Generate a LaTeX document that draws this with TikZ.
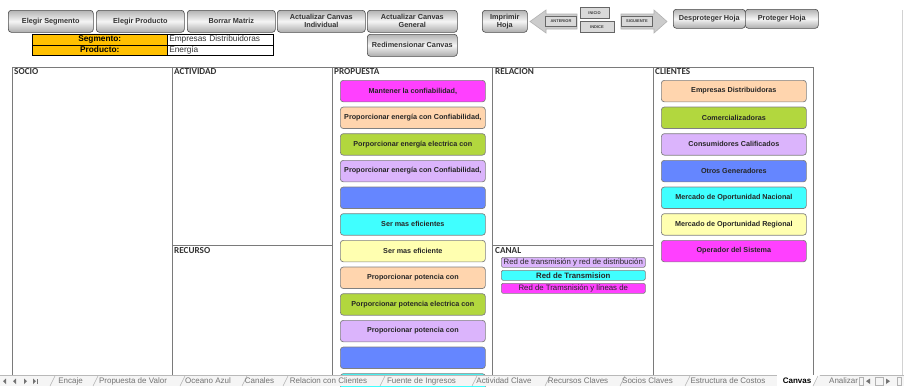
\documentclass[tikz,border=0pt]{standalone}
\usepackage{fontspec}
\setmainfont{Liberation Sans}
\newfontfamily\hdrfont{Carlito}
\definecolor{cMag}{HTML}{FF40FF}
\definecolor{cPeach}{HTML}{FFD5AE}
\definecolor{cGreen}{HTML}{B2D73E}
\definecolor{cLav}{HTML}{DBB4FC}
\definecolor{cBlue}{HTML}{6586FF}
\definecolor{cCyan}{HTML}{40FFFF}
\definecolor{cYel}{HTML}{FFFFB0}
\definecolor{cGold}{HTML}{FFC000}
\definecolor{gridc}{HTML}{7A7A7A}
\begin{document}
\begin{tikzpicture}[x=1pt,y=-1pt,
  btn/.style={draw=black!70, line width=0.6pt, rounded corners=3pt,
    top color=gray!60, bottom color=gray!65, middle color=gray!8,
    minimum width=#1, minimum height=22pt, inner sep=0pt, align=center,
    anchor=north west, font=\fontsize{7.3}{8}\selectfont\bfseries, text=black!80},
  cbox/.style={draw=black!50, line width=0.7pt, rounded corners=3pt, fill=#1,
    minimum width=145pt, minimum height=21.5pt, inner sep=0pt, anchor=north west,
    font=\fontsize{7.2}{8}\selectfont\bfseries, text=black!85},
  kbox/.style={draw=black!50, line width=0.6pt, rounded corners=1.5pt, fill=#1,
    minimum width=144pt, minimum height=10pt, inner sep=0pt, anchor=north west,
    font=\fontsize{7.8}{8.5}\selectfont, text=black!85},
  ycell/.style={draw=black, line width=0.5pt, fill=cGold, minimum width=135pt,
    minimum height=10.5pt, inner sep=0pt, anchor=north west,
    font=\fontsize{8.3}{9}\selectfont\bfseries},
  wcell/.style={draw=black, line width=0.5pt, fill=white, text width=102pt, align=left,
    inner xsep=2pt, inner ysep=0pt, minimum height=10.5pt, anchor=north west,
    font=\fontsize{8.3}{9}\selectfont, text=black!80},
  hdr/.style={anchor=north west, inner sep=0pt, font=\hdrfont\fontsize{9.2}{10}\selectfont\bfseries, text=black!80},
  gridline/.style={draw=gridc, line width=0.8pt},
  navlbl/.style={draw=black!60, line width=0.5pt, fill=gray!30, inner sep=0pt,
    font=\fontsize{4}{4.5}\selectfont\bfseries, text=black!75},
  arrowshape/.style={fill=gray!40, draw=gray!60, line width=0.6pt},
  tabtxt/.style={inner sep=0pt, font=\fontsize{8}{9}\selectfont, text=black!55},
  tabsep/.style={draw=gray!60, line width=0.5pt},
  navtri/.style={fill=black!55}
]
\useasboundingbox (0,0) rectangle (904,386);
\fill[white] (0,0) rectangle (904,386);

% ---------- toolbar buttons ----------
\node[btn=85pt] (b1) at (8,10) {Elegir Segmento};
\node[btn=88pt] (b2) at (96,10) {Elegir Producto};
\node[btn=88pt] (b3) at (187,10) {Borrar Matriz};
\node[btn=88pt] (b4) at (277,10) {Actualizar Canvas\\Individual};
\node[btn=90pt] (b5) at (367,10) {Actualizar Canvas\\General};
\node[btn=90pt] (b6) at (367,34) {Redimensionar Canvas};
\node[btn=45pt] (b7) at (482,10) {Imprimir\\Hoja};
\node[btn=72pt, minimum height=19pt] (b8) at (673,9) {Desproteger Hoja};
\node[btn=73pt, minimum height=19pt] (b9) at (745,9) {Proteger Hoja};

% navigation arrows
\draw[arrowshape] (530,21.5) -- (546,10) -- (546,14) -- (577,14) -- (577,29) -- (546,29) -- (546,33) -- cycle;
\node[navlbl, minimum width=31pt, minimum height=10pt] (ant) at (561,21.5) {ANTERIOR};
\draw[arrowshape] (667,21.5) -- (654,10) -- (654,14) -- (621,14) -- (621,29) -- (654,29) -- (654,33) -- cycle;
\node[navlbl, minimum width=31pt, minimum height=10pt] (sig) at (637,21.5) {SIGUIENTE};
\node[navlbl, minimum width=29pt, minimum height=11pt] (ini) at (594.5,13) {INICIO};
\node[navlbl, minimum width=34pt, minimum height=11pt] (ind) at (597,27) {INDICE};

% segment table
\node[ycell] (segl) at (32,34) {Segmento:};
\node[wcell] (segv) at (167,34) {Empresas Distribuidoras};
\node[ycell] (prol) at (32,44.5) {Producto:};
\node[wcell] (prov) at (167,44.5) {Energía};

% ---------- canvas grid ----------
\draw[gridline] (12,67) -- (813,67);
\foreach \x in {12,172,332,492,653,813} \draw[gridline] (\x,67) -- (\x,376);
\draw[gridline] (172,245) -- (332,245);
\draw[gridline] (492,245) -- (653,245);
\draw[draw=gray!35, line width=0.8pt] (902,10) -- (902,376);

\node[hdr] (hsocio) at (14,68.5) {SOCIO};
\node[hdr] (hact) at (174,68.5) {ACTIVIDAD};
\node[hdr] (hprop) at (334,68.5) {PROPUESTA};
\node[hdr] (hrel) at (495,68.5) {RELACION};
\node[hdr] (hcli) at (655,68.5) {CLIENTES};
\node[hdr] (hrec) at (174,247.5) {RECURSO};
\node[hdr] (hcan) at (495,247) {CANAL};

% propuesta boxes
\node[cbox=cMag] (p1) at (340,80) {Mantener la confiabilidad,};
\node[cbox=cPeach] (p2) at (340,106.7) {Proporcionar energía con Confiabilidad,};
\node[cbox=cGreen] (p3) at (340,133.3) {Porporcionar energía electrica con};
\node[cbox=cLav] (p4) at (340,160) {Proporcionar energía con Confiabilidad,};
\node[cbox=cBlue] (p5) at (340,186.7) {};
\node[cbox=cCyan] (p6) at (340,213.3) {Ser mas eficientes};
\node[cbox=cYel] (p7) at (340,240) {Ser mas eficiente};
\node[cbox=cPeach] (p8) at (340,266.7) {Proporcionar potencia con};
\node[cbox=cGreen] (p9) at (340,293.3) {Porporcionar potencia electrica con};
\node[cbox=cLav] (p10) at (340,320) {Proporcionar potencia con};
\node[cbox=cBlue] (p11) at (340,346.7) {};
\node[cbox=cCyan] (p12) at (340,373.3) {};

% clientes boxes
\node[cbox=cPeach] (c1) at (661,80) {Empresas Distribuidoras};
\node[cbox=cGreen] (c2) at (661,106.7) {Comercializadoras};
\node[cbox=cLav] (c3) at (661,133.3) {Consumidores Calificados};
\node[cbox=cBlue] (c4) at (661,160) {Otros Generadores};
\node[cbox=cCyan] (c5) at (661,186.7) {Mercado de Oportunidad Nacional};
\node[cbox=cYel] (c6) at (661,213.3) {Mercado de Oportunidad Regional};
\node[cbox=cMag] (c7) at (661,240) {Operador del Sistema};

% canal boxes
\node[kbox=cLav] (k1) at (501,257) {Red de transmisión y red de distribución};
\node[kbox=cCyan, font=\fontsize{7.8}{8.5}\selectfont\bfseries] (k2) at (501,270) {Red de Transmision};
\node[kbox=cMag] (k3) at (501,283) {Red de Tramsnisión y líneas de};

% ---------- sheet tab bar ----------
\fill[gray!8] (0,375) rectangle (904,386);
\draw[gray!55, line width=0.5pt] (0,375.3) -- (904,375.3);
\fill[white] (777,375) -- (777,386) -- (813,386) -- (820,375) -- cycle;
\foreach \x in {50,93,180,242,283,380,472,545,620,685,813} \draw[tabsep] (\x,386) -- (\x+5,376);
\node[tabtxt] (t1) at (70.5,381) {Encaje};
\node[tabtxt] (t2) at (133,381) {Propuesta de Valor};
\node[tabtxt] (t3) at (208,381) {Oceano Azul};
\node[tabtxt] (t4) at (259.5,381) {Canales};
\node[tabtxt] (t5) at (328.5,381) {Relacion con Clientes};
\node[tabtxt] (t6) at (421.5,381) {Fuente de Ingresos};
\node[tabtxt] (t7) at (504,381) {Actividad Clave};
\node[tabtxt] (t8) at (578,381) {Recursos Claves};
\node[tabtxt] (t9) at (647.5,381) {Socios Claves};
\node[tabtxt] (t10) at (728,381) {Estructura de Costos};
\node[tabtxt, text=black, font=\fontsize{8}{9}\selectfont\bfseries] (t11) at (797,381) {Canvas};
\node[tabtxt, anchor=west] (t12) at (829,381) {Analizar};
% scroll controls
\fill[gray!8] (858,376) rectangle (904,386);
\draw[gray!60, line width=0.5pt] (859,377.5) rectangle (863,385);
\fill[navtri] (866,381.2) -- (870,378.5) -- (870,384) -- cycle;
\draw[gray!60, line width=0.5pt] (875,377.5) rectangle (883,385);
\fill[navtri] (890,381.2) -- (886,378.5) -- (886,384) -- cycle;
\draw[gray!60, line width=0.5pt] (897,377.5) rectangle (901,385);
% left navigation
\fill[navtri] (3,381.2) -- (6,378.5) -- (6,384) -- cycle;
\fill[navtri] (13,381.2) -- (16,378.5) -- (16,384) -- cycle;
\fill[navtri] (27,381.2) -- (24,378.5) -- (24,384) -- cycle;
\fill[navtri] (36,381.2) -- (33,378.5) -- (33,384) -- cycle;
\fill[navtri] (36.5,378.5) rectangle (37.5,384);
\end{tikzpicture}
\end{document}
